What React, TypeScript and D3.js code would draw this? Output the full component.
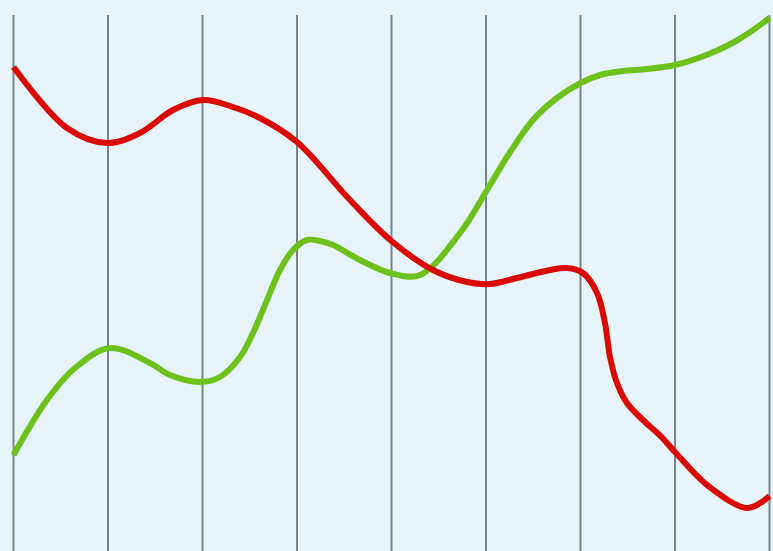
import React from "react";
import * as d3 from "d3";

const W = 773;
const H = 551;

// grid positions (category index)
const gridTicks = [0, 1, 2, 3, 4, 5, 6, 7, 8];

// red series: x (grid units) and value
const redX = [0, 0.566, 0.989, 1.339, 1.688, 2.005, 2.323, 2.608, 3.0, 3.561, 4.0, 4.439, 4.799, 5.042, 5.328, 5.677, 5.857, 6.026, 6.175, 6.259, 6.312, 6.386, 6.492, 6.661, 6.857, 7.0, 7.365, 7.772, 8.0];
const redY = [484, 423, 408, 418, 441, 451, 444, 433, 409, 351, 310, 281, 269, 267, 273, 281, 283, 278, 258, 228, 194, 168, 148, 131, 114, 99, 64, 43, 55];

// green series: x (grid units) and value
const greenX = [0, 0.354, 0.651, 1.021, 1.444, 1.656, 1.974, 2.185, 2.397, 2.534, 2.683, 2.82, 2.958, 3.106, 3.243, 3.381, 3.667, 3.984, 4.302, 4.725, 5.011, 5.222, 5.497, 5.751, 6.0, 6.206, 6.45, 6.704, 7.0, 7.333, 7.608, 7.826, 8.0];
const greenY = [96, 151, 183, 203, 188, 176, 169, 174, 194, 218, 251, 281, 301, 311, 310, 306, 291, 278, 276, 318, 361, 394, 431, 453, 468, 476, 480, 482, 486, 496, 508, 521, 533];

export default function App() {
  const x = d3.scaleLinear().domain([0, 8]).range([13.5, 769.5]);
  const y = d3.scaleLinear().domain([0, 540]).range([551, 11]);
  const line = d3
    .line<[number, number]>()
    .x((d) => x(d[0]))
    .y((d) => y(d[1]))
    .curve(d3.curveCatmullRom.alpha(0.5));
  const red = redX.map((v, i) => [v, redY[i]] as [number, number]);
  const green = greenX.map((v, i) => [v, greenY[i]] as [number, number]);
  return (
    <svg
      width={W}
      height={H}
      style={{ position: "absolute", left: 0, top: 0, display: "block" }}
    >
      <rect x={0} y={0} width={W} height={H} fill="#e8f4fc" />
      {gridTicks.map((t) => (
        <line
          key={t}
          x1={x(t)}
          x2={x(t)}
          y1={15}
          y2={H}
          stroke="#75838f"
          strokeWidth={2}
        />
      ))}
      <path d={line(green) || ""} fill="none" stroke="#6cc21a" strokeWidth={6} />
      <path d={line(red) || ""} fill="none" stroke="#d90a02" strokeWidth={6} />
    </svg>
  );
}
